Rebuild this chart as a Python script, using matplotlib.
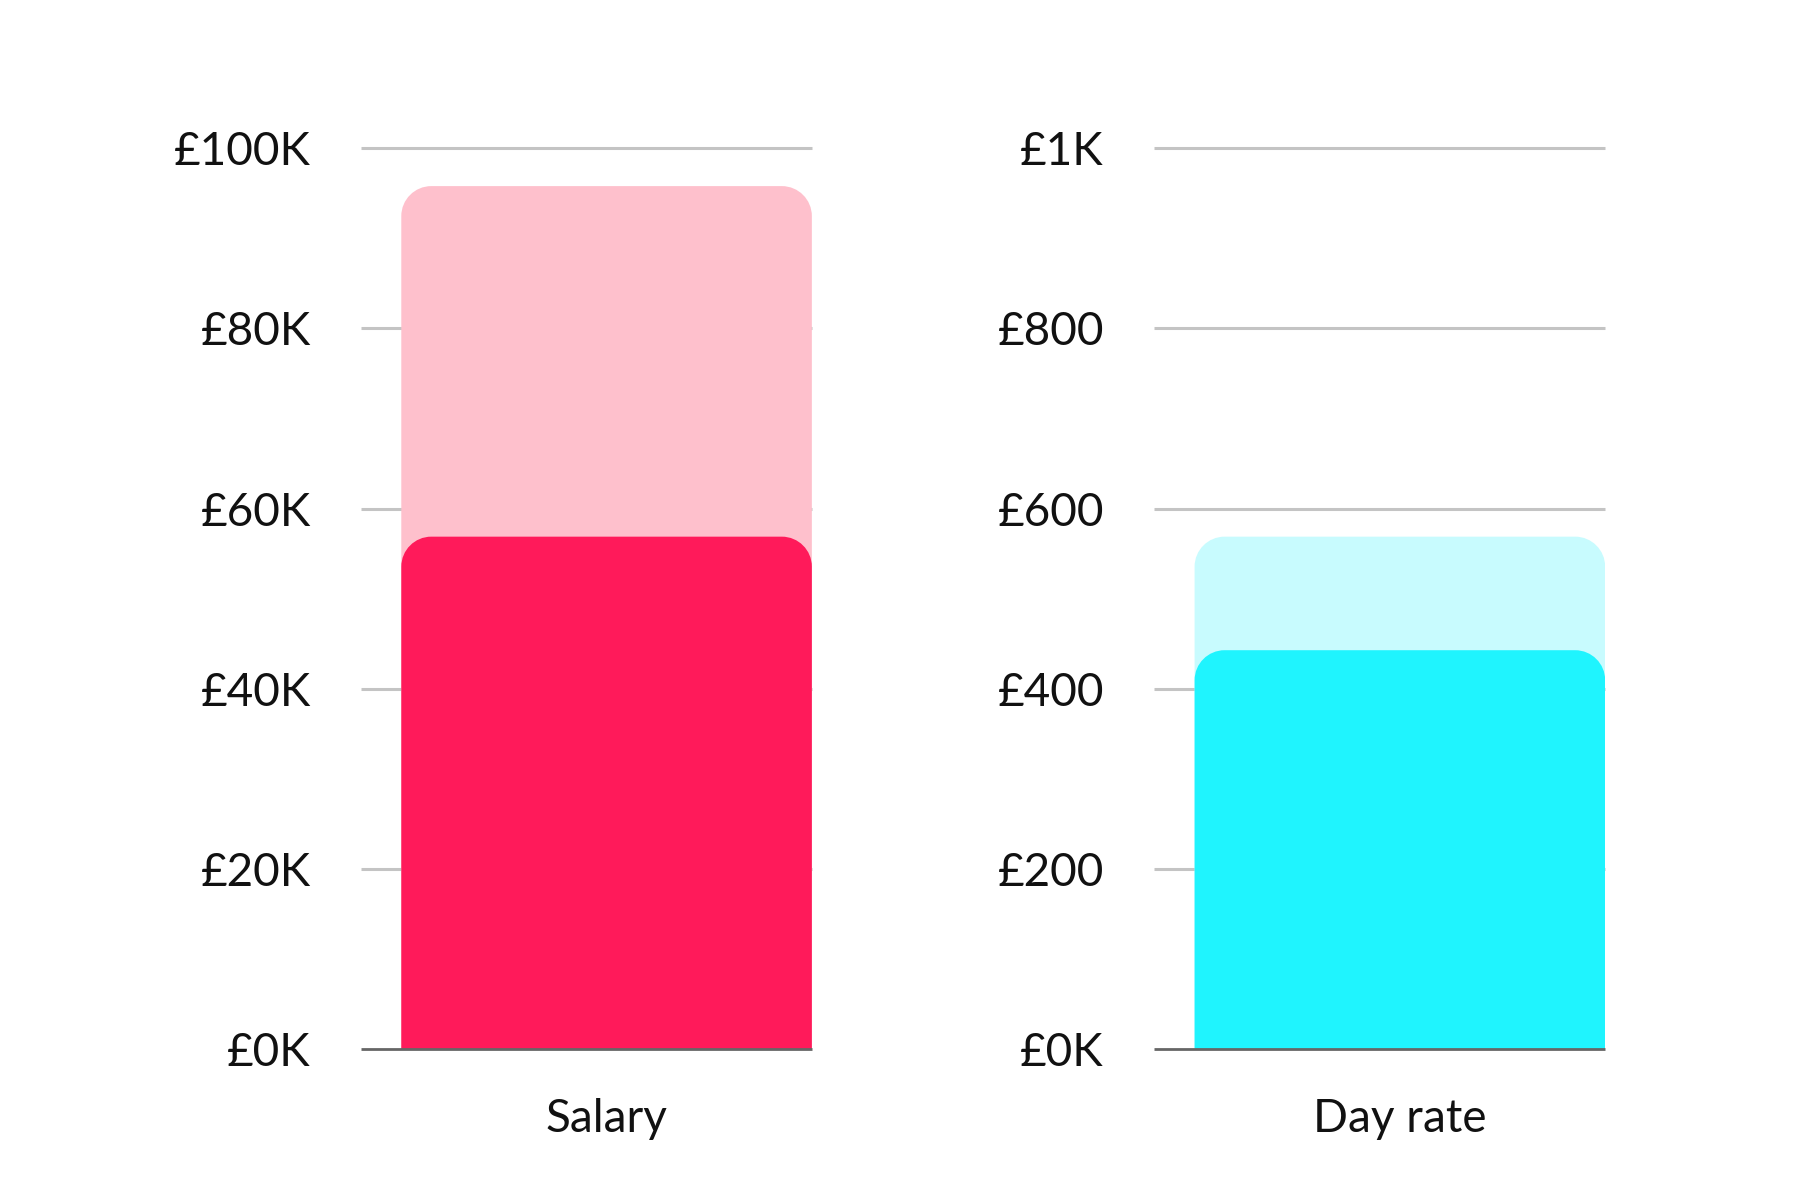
import matplotlib
matplotlib.use("Agg")
import matplotlib.pyplot as plt
from matplotlib.path import Path
from matplotlib.patches import PathPatch

plt.rcParams['font.family'] = ['Lato', 'DejaVu Sans']

# Data
salary_category = ["Salary"]
salary_high = [95.8]   # £K
salary_low = [56.9]    # £K
salary_ticks = [0, 20, 40, 60, 80, 100]
salary_ticklabels = ["£0K", "£20K", "£40K", "£60K", "£80K", "£100K"]

dayrate_category = ["Day rate"]
dayrate_high = [569]   # £
dayrate_low = [443]    # £
dayrate_ticks = [0, 200, 400, 600, 800, 1000]
dayrate_ticklabels = ["£0K", "£200", "£400", "£600", "£800", "£1K"]

C_PINK_LIGHT = "#fec0cc"
C_PINK = "#ff1a5a"
C_CYAN_LIGHT = "#c8fbfe"
C_CYAN = "#1ff4fe"

FS = 33

fig = plt.figure(figsize=(18, 12), dpi=100)
W, H = 1552.0, 1036.0
axL = fig.add_axes([311 / W, 1 - 906 / H, 389 / W, 778 / H])
axR = fig.add_axes([995 / W, 1 - 906 / H, 389 / W, 778 / H])


def rounded_top(ax, rect, color, r_px=30):
    x0, y0 = rect.get_x(), rect.get_y()
    w, h = rect.get_width(), rect.get_height()
    rect.set_visible(False)
    fig.canvas.draw()
    inv = ax.transData.inverted()
    p0 = ax.transData.transform((0, 0))
    p1 = inv.transform((p0[0] + r_px, p0[1] + r_px))
    rx, ry = p1[0], p1[1]
    k = 0.5523
    x1, y1 = x0 + w, y0 + h
    verts = [
        (x0, y0), (x0, y1 - ry),
        (x0, y1 - ry + k * ry), (x0 + rx - k * rx, y1), (x0 + rx, y1),
        (x1 - rx, y1),
        (x1 - rx + k * rx, y1), (x1, y1 - ry + k * ry), (x1, y1 - ry),
        (x1, y0), (x0, y0),
    ]
    codes = [Path.MOVETO, Path.LINETO,
             Path.CURVE4, Path.CURVE4, Path.CURVE4,
             Path.LINETO,
             Path.CURVE4, Path.CURVE4, Path.CURVE4,
             Path.LINETO, Path.CLOSEPOLY]
    ax.add_patch(PathPatch(Path(verts, codes), facecolor=color,
                           edgecolor="none", zorder=3))


def setup(ax, cats, high, low, ticks, ticklabels, c_light, c_dark):
    top = ticks[-1]
    ax.set_xlim(0, 1)
    ax.set_ylim(0, top)
    xc = (0.09 + 1.0) / 2
    bw = 0.91
    b1 = ax.bar([xc], high, width=bw, color=c_light, zorder=3)
    b2 = ax.bar([xc], low, width=bw, color=c_dark, zorder=4)
    rounded_top(ax, b1.patches[0], c_light)
    rounded_top(ax, b2.patches[0], c_dark)
    ax.set_xticks([xc])
    ax.set_xticklabels(cats, fontsize=FS, color="#111111")
    ax.set_yticks(ticks)
    ax.set_yticklabels(ticklabels, fontsize=FS, color="#111111")
    ax.tick_params(axis="both", length=0)
    ax.tick_params(axis="y", pad=36)
    ax.tick_params(axis="x", pad=35)
    for s in ["left", "right", "top"]:
        ax.spines[s].set_visible(False)
    ax.spines["bottom"].set_color("#666666")
    ax.spines["bottom"].set_linewidth(2)
    ax.spines["bottom"].set_capstyle("butt")
    ax.spines["bottom"].set_zorder(5)
    for t in ticks[1:]:
        ax.axhline(t, color="#c4c4c4", lw=2.2, zorder=1, clip_on=False,
                   solid_capstyle="butt")


setup(axL, salary_category, salary_high, salary_low, salary_ticks,
      salary_ticklabels, C_PINK_LIGHT, C_PINK)
setup(axR, dayrate_category, dayrate_high, dayrate_low, dayrate_ticks,
      dayrate_ticklabels, C_CYAN_LIGHT, C_CYAN)

fig.savefig("out.png", dpi=100)
